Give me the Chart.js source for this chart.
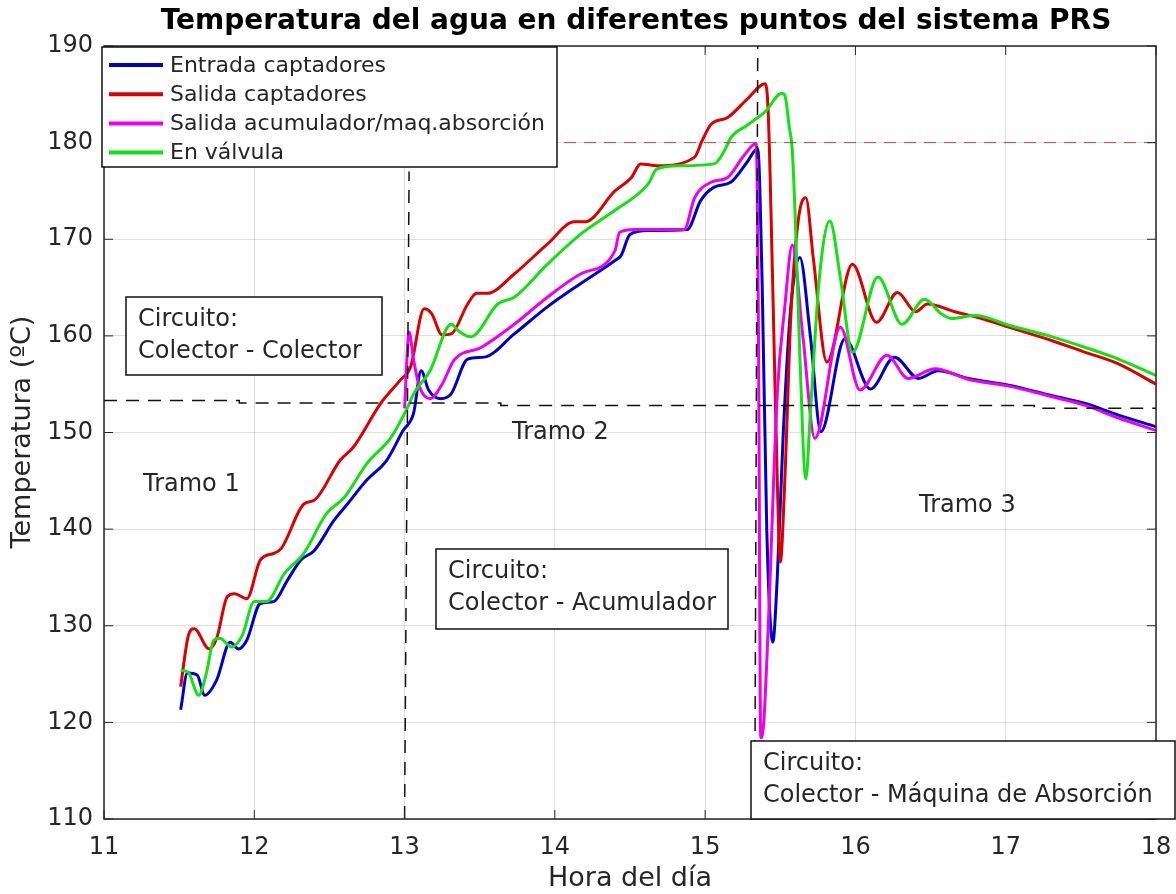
<!DOCTYPE html>
<html>
<head>
<meta charset="utf-8">
<script src="https://cdn.jsdelivr.net/npm/chart.js@4.4.1/dist/chart.umd.min.js"></script>
<style>
  html, body { margin: 0; padding: 0; background: #fff; }
</style>
</head>
<body>
<canvas id="myChart" width="1176" height="894"></canvas>
<script>
// Entrada captadores (azul)
const entradaHora = [11.51, 11.555, 11.62, 11.67, 11.75, 11.84, 11.895, 11.95, 12.04, 12.13, 12.22, 12.31, 12.4, 12.53, 12.62, 12.75, 12.88, 12.99, 13.06, 13.11, 13.16, 13.24, 13.31, 13.42, 13.53, 13.73, 13.95, 14.17, 14.4, 14.44, 14.5, 14.62, 14.88, 14.97, 15.06, 15.17, 15.28, 15.35, 15.38, 15.41, 15.45, 15.48, 15.52, 15.57, 15.63, 15.7, 15.77, 15.93, 16.1, 16.26, 16.42, 16.55, 16.75, 17.02, 17.31, 17.53, 17.75, 18.0];
const entradaTemp = [121.3, 125.1, 124.9, 122.8, 124.4, 128.3, 127.6, 128.5, 132.3, 132.5, 134.7, 136.8, 137.8, 140.9, 142.6, 145.1, 147.1, 150.2, 152, 156.4, 154.4, 153.5, 154, 157.6, 157.8, 160.2, 163, 165.4, 167.8, 168.3, 170.5, 170.9, 171, 174, 175.4, 175.9, 178, 179.4, 165, 140, 128.3, 135, 150, 163, 168.1, 160, 150.1, 159.7, 154.5, 157.8, 155.6, 156.4, 155.6, 154.9, 153.8, 153, 151.8, 150.6];

// Salida captadores (rojo)
const salidaHora = [11.51, 11.56, 11.6, 11.7, 11.75, 11.82, 11.87, 11.95, 12.04, 12.13, 12.18, 12.33, 12.4, 12.57, 12.66, 12.84, 12.97, 13.04, 13.13, 13.18, 13.25, 13.31, 13.42, 13.48, 13.55, 13.73, 13.95, 14.13, 14.2, 14.4, 14.51, 14.57, 14.68, 14.93, 14.98, 15.04, 15.15, 15.28, 15.4, 15.42, 15.45, 15.48, 15.5, 15.53, 15.57, 15.62, 15.67, 15.72, 15.81, 15.98, 16.14, 16.28, 16.4, 16.48, 16.66, 16.84, 17.02, 17.31, 17.53, 17.75, 18.0];
const salidaTemp = [123.7, 128.9, 129.7, 127.6, 128.7, 133, 133.3, 132.8, 136.8, 137.5, 138, 142.6, 143, 147.1, 148.5, 153, 155.4, 156.8, 162.8, 162.3, 160.1, 160.2, 163.3, 164.4, 164.4, 166.4, 169.5, 171.8, 171.8, 175, 176.4, 177.8, 177.6, 178.5, 180.2, 181.9, 182.6, 184.5, 186.1, 183, 165, 145, 136.6, 145, 162, 172, 174.3, 168, 157.3, 167.4, 161.4, 164.5, 162.5, 163.3, 162.5, 161.8, 160.9, 159.5, 158.3, 157.1, 155];

// Salida acumulador / maq. absorcion (magenta)
const acumHora = [13.0, 13.03, 13.06, 13.1, 13.17, 13.25, 13.33, 13.51, 13.73, 13.95, 14.17, 14.4, 14.43, 14.53, 14.86, 14.93, 15.04, 15.15, 15.26, 15.34, 15.355, 15.37, 15.39, 15.42, 15.48, 15.53, 15.58, 15.65, 15.73, 15.9, 16.03, 16.21, 16.35, 16.53, 16.75, 17.02, 17.31, 17.53, 17.75, 18.0];
const acumTemp = [152.5, 160.4, 157.5, 154.7, 153.5, 155, 157.5, 158.8, 161.2, 164, 166.4, 168.8, 170.7, 171, 171, 174.3, 175.9, 176.4, 178.7, 179.9, 160, 118.4, 120, 130, 154, 163, 169.4, 160, 149.4, 160.9, 154.4, 158, 155.6, 156.6, 155.5, 154.8, 153.7, 152.8, 151.5, 150.2];

// En valvula (verde)
const valvulaHora = [11.51, 11.56, 11.63, 11.68, 11.73, 11.77, 11.85, 11.92, 12.0, 12.08, 12.2, 12.33, 12.48, 12.6, 12.75, 12.91, 13.02, 13.06, 13.17, 13.31, 13.36, 13.44, 13.62, 13.73, 13.95, 14.17, 14.4, 14.62, 14.68, 14.84, 15.06, 15.13, 15.17, 15.28, 15.4, 15.51, 15.53, 15.56, 15.58, 15.6, 15.63, 15.67, 15.7, 15.76, 15.83, 15.9, 15.98, 16.15, 16.31, 16.46, 16.57, 16.64, 16.8, 17.02, 17.31, 17.53, 17.75, 18.0];
const valvulaTemp = [125.4, 125.2, 122.8, 125, 128.5, 128.7, 127.8, 129, 132.5, 132.5, 135.4, 137.5, 141.6, 143.3, 146.8, 149.5, 152.6, 154, 156.4, 161.2, 160.5, 159.9, 163.3, 164, 167.4, 170.5, 173, 175.7, 177.3, 177.6, 177.8, 179.2, 180.5, 181.8, 183.2, 185.1, 184.9, 181.6, 179.2, 172, 158, 145.2, 152, 166, 171.9, 166, 158.3, 166.1, 161.2, 163.8, 162.3, 161.8, 162.1, 161.1, 159.9, 158.8, 157.6, 155.9];

// Lineas de referencia
const limiteHora = [11, 18];
const limiteTemp = [180, 180];
const separacionHora = [11, 11.9, 11.9, 13.64, 13.64, 17.19, 17.19, 18];
const separacionTemp = [153.3, 153.3, 153.05, 153.05, 152.8, 152.8, 152.5, 152.5];
const corte1Hora = [13.0, 13.03];
const corte1Temp = [110, 177];
const corte2Hora = [15.33, 15.35];
const corte2Temp = [110, 190];

const xTicks = [11, 12, 13, 14, 15, 16, 17, 18];
const yTicks = [110, 120, 130, 140, 150, 160, 170, 180, 190];

const FONT = "'DejaVu Sans', 'Liberation Sans', sans-serif";
const TXT = "#262626";

function pts(h, t) {
  return h.map((x, i) => ({ x: x, y: t[i] }));
}

const series = [
  { label: "Entrada captadores", h: entradaHora, t: entradaTemp, color: "rgb(0,0,205)", order: 4 },
  { label: "Salida captadores", h: salidaHora, t: salidaTemp, color: "rgb(220,0,0)", order: 3 },
  { label: "Salida acumulador/maq.absorción", h: acumHora, t: acumTemp, color: "rgb(238,0,238)", order: 2 },
  { label: "En válvula", h: valvulaHora, t: valvulaTemp, color: "rgb(20,225,20)", order: 1 },
];

const datasets = series.map((s) => ({
  label: s.label,
  data: pts(s.h, s.t),
  borderColor: s.color,
  borderWidth: 3,
  pointRadius: 0,
  cubicInterpolationMode: "monotone",
  order: s.order,
}));

// lineas discontinuas encima de todo
datasets.push({ label: "lim", data: pts(limiteHora, limiteTemp), borderColor: "rgba(170,60,40,0.9)", borderWidth: 1, borderDash: [12, 8], pointRadius: 0, order: 0 });
datasets.push({ label: "sep", data: pts(separacionHora, separacionTemp), borderColor: "#111", borderWidth: 1.5, borderDash: [13, 9], pointRadius: 0, order: 0 });
datasets.push({ label: "c1", data: pts(corte1Hora, corte1Temp), borderColor: "#111", borderWidth: 1.5, borderDash: [13, 9], pointRadius: 0, order: 0 });
datasets.push({ label: "c2", data: pts(corte2Hora, corte2Temp), borderColor: "#111", borderWidth: 1.5, borderDash: [13, 9], pointRadius: 0, order: 0 });

// cajas de texto (pixeles de la figura)
const cajas = [
  { x: 126, y: 297, w: 256, h: 78, lines: ["Circuito:", "Colector - Colector"] },
  { x: 436, y: 549, w: 292, h: 80, lines: ["Circuito:", "Colector - Acumulador"] },
  { x: 751, y: 741, w: 424, h: 78, lines: ["Circuito:", "Colector - Máquina de Absorción"] },
];
const tramos = [
  { text: "Tramo 1", x: 143, y: 485 },
  { text: "Tramo 2", x: 512, y: 433 },
  { text: "Tramo 3", x: 919, y: 506 },
];

const decoPlugin = {
  id: "deco",
  afterDatasetsDraw(chart) {
    const ctx = chart.ctx;
    const a = chart.chartArea;
    const xs = chart.scales.x, ys = chart.scales.y;
    ctx.save();

    // marco de los ejes y marcas interiores
    ctx.strokeStyle = TXT;
    ctx.lineWidth = 1.5;
    ctx.strokeRect(a.left, a.top, a.right - a.left, a.bottom - a.top);
    ctx.lineWidth = 1;
    xTicks.forEach((v) => {
      const px = xs.getPixelForValue(v);
      ctx.beginPath();
      ctx.moveTo(px, a.bottom); ctx.lineTo(px, a.bottom - 9);
      ctx.moveTo(px, a.top); ctx.lineTo(px, a.top + 9);
      ctx.stroke();
    });
    yTicks.forEach((v) => {
      const py = ys.getPixelForValue(v);
      ctx.beginPath();
      ctx.moveTo(a.left, py); ctx.lineTo(a.left + 9, py);
      ctx.moveTo(a.right, py); ctx.lineTo(a.right - 9, py);
      ctx.stroke();
    });

    // textos de tramos
    ctx.fillStyle = TXT;
    ctx.font = "24px " + FONT;
    ctx.textBaseline = "middle";
    ctx.textAlign = "left";
    tramos.forEach((t) => ctx.fillText(t.text, t.x, t.y));

    // cajas de circuito
    cajas.forEach((c) => {
      ctx.fillStyle = "#fff";
      ctx.fillRect(c.x, c.y, c.w, c.h);
      ctx.strokeStyle = "#111";
      ctx.lineWidth = 1.5;
      ctx.strokeRect(c.x, c.y, c.w, c.h);
      ctx.fillStyle = TXT;
      ctx.font = "24px " + FONT;
      ctx.fillText(c.lines[0], c.x + 12, c.y + 23);
      ctx.fillText(c.lines[1], c.x + 12, c.y + 55);
    });

    // leyenda
    const lx = 102, ly = 47, lw = 455, lh = 120;
    ctx.fillStyle = "#fff";
    ctx.fillRect(lx, ly, lw, lh);
    ctx.strokeStyle = "#111";
    ctx.lineWidth = 1.5;
    ctx.strokeRect(lx, ly, lw, lh);
    ctx.font = "22px " + FONT;
    series.forEach((s, i) => {
      const yy = 65 + i * 29.2;
      ctx.strokeStyle = s.color;
      ctx.lineWidth = 4;
      ctx.beginPath();
      ctx.moveTo(109, yy); ctx.lineTo(163, yy);
      ctx.stroke();
      ctx.fillStyle = TXT;
      ctx.fillText(s.label, 170, yy + 1);
    });

    // titulos
    ctx.fillStyle = "#000";
    ctx.textAlign = "center";
    ctx.font = "bold 28px " + FONT;
    ctx.fillText("Temperatura del agua en diferentes puntos del sistema PRS", 636, 22);
    ctx.fillStyle = TXT;
    ctx.font = "27px " + FONT;
    ctx.fillText("Hora del día", 630, 879);
    ctx.translate(23, 432);
    ctx.rotate(-Math.PI / 2);
    ctx.fillText("Temperatura (ºC)", 0, 0);
    ctx.restore();
  },
};

const ctx = document.getElementById("myChart").getContext("2d");
const myChart = new Chart(ctx, {
  type: "line",
  data: { datasets: datasets },
  options: {
    responsive: false,
    animation: false,
    devicePixelRatio: 1,
    layout: { padding: { top: 46, right: 20, left: 0, bottom: 0 } },
    plugins: { legend: { display: false }, tooltip: { enabled: false } },
    scales: {
      x: {
        type: "linear",
        min: 11,
        max: 18,
        afterFit: (s) => { s.height = 75; s.paddingLeft = 0; s.paddingRight = 0; },
        afterBuildTicks: (s) => { s.ticks = xTicks.map((v) => ({ value: v })); },
        ticks: { font: { family: FONT, size: 24 }, color: TXT, padding: 14 },
        grid: { color: "rgba(38,38,38,0.15)", drawTicks: false },
        border: { display: false },
      },
      y: {
        min: 110,
        max: 190,
        afterFit: (s) => { s.width = 104; s.paddingTop = 0; s.paddingBottom = 0; },
        afterBuildTicks: (s) => { s.ticks = yTicks.map((v) => ({ value: v })); },
        ticks: { font: { family: FONT, size: 24 }, color: TXT, padding: 11 },
        grid: { color: "rgba(38,38,38,0.15)", drawTicks: false },
        border: { display: false },
      },
    },
  },
  plugins: [decoPlugin],
});
</script>
</body>
</html>
